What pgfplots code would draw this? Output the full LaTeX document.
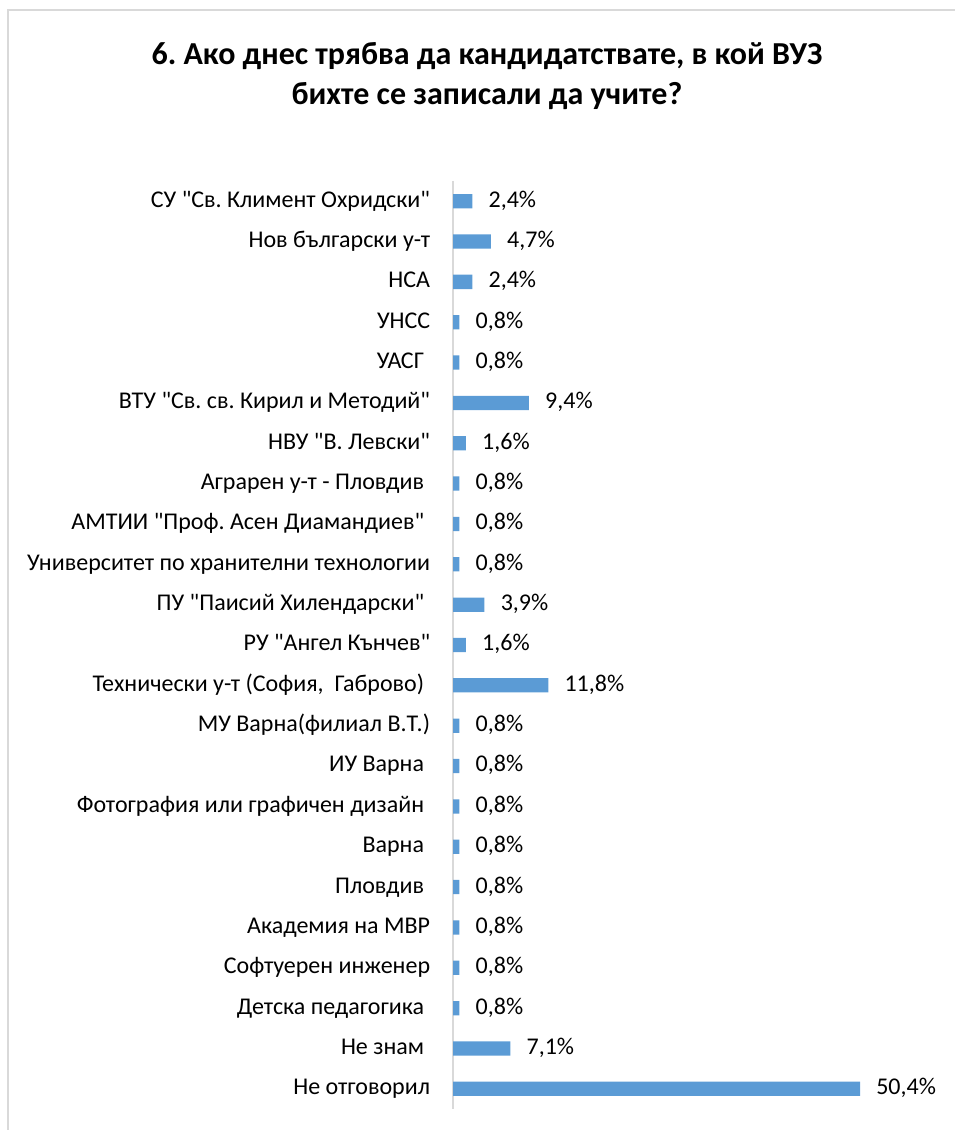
\documentclass[border=0pt]{standalone}
\usepackage{fontspec}
\setmainfont{Carlito}[Ligatures=TeXOff]
\usepackage{pgfplots}
\pgfplotsset{compat=1.18}
\definecolor{barblue}{HTML}{5B9BD5}
\definecolor{framegray}{HTML}{D9D9D9}
\frenchspacing
\newcommand{\tsp}{\hspace*{4.5pt}}
\begin{document}
\begin{tikzpicture}[x=0.75pt,y=0.75pt]
\useasboundingbox (0,0) rectangle (955,1130);
\draw[framegray, line width=1.5pt] (8,-10) -- (8,1120) -- (965,1120);
\node[font=\bfseries\fontsize{24}{28}\selectfont] at (487,1074) {6. Ако днес трябва да кандидатствате, в кой ВУЗ};
\node[font=\bfseries\fontsize{24}{28}\selectfont] at (487,1034) {бихте се записали да учите?};
\begin{axis}[
  at={(339.75pt,15.75pt)}, anchor=south west,
  scale only axis,
  width=363.4pt, height=696pt,
  xmin=0, xmax=60,
  ymin=-0.5, ymax=22.5,
  y dir=reverse,
  xbar, bar width=10.7pt,
  axis x line=none,
  axis y line*=left,
  y axis line style={framegray, line width=1.5pt},
  ytick=data,
  major tick length=0pt,
  ytick style={draw=none},
  yticklabels={
    {СУ "Св. Климент Охридски"},
    {Нов български у-т},
    {НСА},
    {УНСС},
    {УАСГ\tsp},
    {ВТУ "Св. св. Кирил и Методий"},
    {НВУ "В. Левски"},
    {Аграрен у-т - Пловдив\tsp},
    {АМТИИ "Проф. Асен Диамандиев"\tsp},
    {Университет по хранителни технологии},
    {ПУ "Паисий Хилендарски"\tsp},
    {РУ "Ангел Кънчев"},
    {Технически у-т (София,\ \ Габрово)\tsp},
    {МУ Варна(филиал В.Т.)},
    {ИУ Варна\tsp},
    {Фотография или графичен дизайн\tsp},
    {Варна\tsp},
    {Пловдив\tsp},
    {Академия на МВР},
    {Софтуерен инженер},
    {Детска педагогика\tsp},
    {Не знам\tsp},
    {Не отговорил}},
  yticklabel style={font=\fontsize{18}{21}\selectfont, anchor=east, inner sep=0pt, xshift=-17pt, text height=1.0em, text depth=0.11em},
  point meta=x,
  nodes near coords={\pgfmathprintnumber[fixed,fixed zerofill,precision=1,use comma,assume math mode=true]{\pgfplotspointmeta}\%},
  nodes near coords style={font=\fontsize{18}{21}\selectfont, anchor=west, inner sep=0pt, xshift=12pt, text height=1.0em, text depth=0.11em, black},
  clip=false,
]
\addplot[fill=barblue, draw=none] coordinates {
  (2.4,0) (4.7,1) (2.4,2) (0.8,3) (0.8,4) (9.4,5) (1.6,6) (0.8,7) (0.8,8) (0.8,9)
  (3.9,10) (1.6,11) (11.8,12) (0.8,13) (0.8,14) (0.8,15) (0.8,16) (0.8,17) (0.8,18)
  (0.8,19) (0.8,20) (7.1,21) (50.4,22)
};
\end{axis}
\end{tikzpicture}
\end{document}
